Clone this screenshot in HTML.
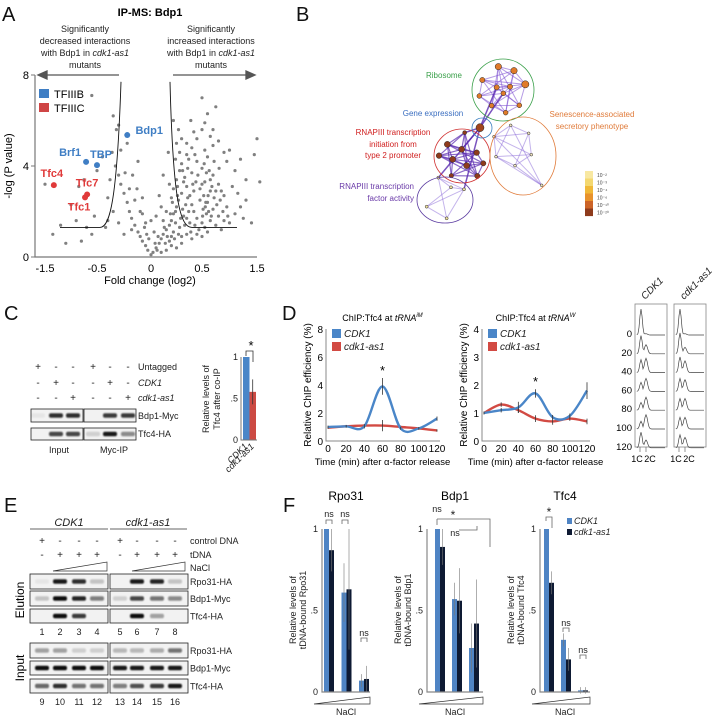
<!DOCTYPE html>
<html><head><meta charset="utf-8">
<style>
html,body{margin:0;padding:0;background:#fff;}
svg{display:block;font-family:"Liberation Sans",Arial,sans-serif;}
.t{font-size:9px;fill:#222;}
.ti{font-size:9px;fill:#222;font-style:italic;}
.pl{font-size:20px;fill:#111;}
</style></head>
<body>
<svg id="fig" width="720" height="718" viewBox="0 0 720 718">
<defs><filter id="blur" x="-20%" y="-50%" width="140%" height="200%"><feGaussianBlur stdDeviation="0.9"/></filter></defs>

<g>
<text class="pl" x="2" y="21">A</text>
<text x="150" y="16" text-anchor="middle" style="font-size:11px;font-weight:bold">IP-MS: Bdp1</text>
<g class="t" text-anchor="middle"><text x="85" y="32">Significantly</text><text x="85" y="44">decreased interactions</text><text x="85" y="56">with Bdp1 in <tspan font-style="italic">cdk1-as1</tspan></text><text x="85" y="68">mutants</text></g>
<g class="t" text-anchor="middle"><text x="211" y="32">Significantly</text><text x="211" y="44">increased interactions</text><text x="211" y="56">with Bdp1 in <tspan font-style="italic">cdk1-as1</tspan></text><text x="211" y="68">mutants</text></g>
<g stroke="#555" stroke-width="1.3" fill="#555"><line x1="119" y1="75" x2="44" y2="75"/><polygon points="38,75 47,71 47,79"/><line x1="173" y1="75" x2="248" y2="75"/><polygon points="255,75 246,71 246,79"/></g>
<g id="volcano"></g>
<rect x="39" y="89" width="10" height="9" fill="#3f7ec4"/>
<text x="54" y="98" style="font-size:11px">TFIIIB</text>
<rect x="39" y="103" width="10" height="9" fill="#cf4545"/>
<text x="54" y="112" style="font-size:11px">TFIIIC</text>
<text x="150" y="284" text-anchor="middle" style="font-size:11px">Fold change (log2)</text>
<text transform="translate(12,166) rotate(-90)" text-anchor="middle" style="font-size:11px">-log (P value)</text>
</g>

<g>
<text class="pl" x="296" y="21">B</text>
<g id="network"></g>
<ellipse cx="503" cy="90" rx="31" ry="31" fill="none" stroke="#3aa04a" stroke-width="0.8"/>
<ellipse cx="462" cy="156" rx="28" ry="27" fill="none" stroke="#d03030" stroke-width="0.8"/>
<ellipse cx="523" cy="156" rx="33" ry="39" fill="none" stroke="#e07b3a" stroke-width="0.8"/>
<ellipse cx="445" cy="200" rx="28" ry="23" fill="none" stroke="#5a3aa0" stroke-width="0.8"/>
<ellipse cx="482" cy="128" rx="10" ry="10" fill="none" stroke="#3a7ec0" stroke-width="0.8"/>
<text x="444" y="78" text-anchor="middle" style="font-size:8px;fill:#3aa04a">Ribosome</text>
<text x="433" y="116" text-anchor="middle" style="font-size:8px;fill:#3a6ec0">Gene expression</text>
<g text-anchor="middle" style="font-size:8px;fill:#e07b3a"><text x="592" y="117">Senescence-associated</text><text x="592" y="129">secretory phenotype</text></g>
<g text-anchor="middle" style="font-size:8px;fill:#d02020"><text x="393" y="135">RNAPIII transcription</text><text x="393" y="147">initiation from</text><text x="393" y="158">type 2 promoter</text></g>
<g text-anchor="end" style="font-size:8px;fill:#6a3aa8"><text x="414" y="189">RNAPIII transcription</text><text x="414" y="201">factor activity</text></g>
<g id="cbar"></g>
</g>

<g>
<text class="pl" x="4" y="320">C</text>
<g class="t" text-anchor="middle" style="font-size:10px">
<text x="38" y="370">+</text><text x="56" y="370">-</text><text x="73" y="370">-</text><text x="93" y="370">+</text><text x="110" y="370">-</text><text x="128" y="370">-</text>
<text x="38" y="386">-</text><text x="56" y="386">+</text><text x="73" y="386">-</text><text x="93" y="386">-</text><text x="110" y="386">+</text><text x="128" y="386">-</text>
<text x="38" y="401">-</text><text x="56" y="401">-</text><text x="73" y="401">+</text><text x="93" y="401">-</text><text x="110" y="401">-</text><text x="128" y="401">+</text>
</g>
<text class="t" x="138" y="370">Untagged</text>
<text class="ti" x="138" y="386">CDK1</text>
<text class="ti" x="138" y="401">cdk1-as1</text>
<g id="blotC"></g>
<text class="t" x="138" y="419">Bdp1-Myc</text>
<text class="t" x="138" y="437">Tfc4-HA</text>
<text class="t" x="59" y="453" text-anchor="middle">Input</text>
<text class="t" x="114" y="453" text-anchor="middle">Myc-IP</text>
<g id="barC"></g>
<g class="t" text-anchor="middle"><text transform="translate(209,399) rotate(-90)">Relative levels of</text><text transform="translate(220,399) rotate(-90)">Tfc4 after co-IP</text></g>
</g>

<g>
<text class="pl" x="282" y="320">D</text>
<g id="chipD"></g>
<g id="flow"></g>
</g>

<g>
<text class="pl" x="4" y="512">E</text>
<text class="ti" x="69" y="526" text-anchor="middle" style="font-size:11px">CDK1</text>
<text class="ti" x="148" y="526" text-anchor="middle" style="font-size:11px">cdk1-as1</text>
<line x1="30" y1="529" x2="108" y2="529" stroke="#333" stroke-width="0.8"/><line x1="110" y1="529" x2="187" y2="529" stroke="#333" stroke-width="0.8"/>
<g class="t" text-anchor="middle" style="font-size:10px">
<text x="42" y="544">+</text><text x="60" y="544">-</text><text x="79" y="544">-</text><text x="97" y="544">-</text><text x="120" y="544">+</text><text x="137" y="544">-</text><text x="157" y="544">-</text><text x="175" y="544">-</text>
<text x="42" y="558">-</text><text x="60" y="558">+</text><text x="79" y="558">+</text><text x="97" y="558">+</text><text x="120" y="558">-</text><text x="137" y="558">+</text><text x="157" y="558">+</text><text x="175" y="558">+</text>
</g>
<text class="t" x="190" y="544">control DNA</text>
<text class="t" x="190" y="558">tDNA</text>
<text class="t" x="190" y="571">NaCl</text>
<polygon points="53,571 107,571 107,562" fill="none" stroke="#333" stroke-width="0.7"/>
<polygon points="132,571 185,571 185,562" fill="none" stroke="#333" stroke-width="0.7"/>
<g id="blotE"></g>
<text transform="translate(24,600) rotate(-90)" text-anchor="middle" style="font-size:12px">Elution</text>
<text transform="translate(24,668) rotate(-90)" text-anchor="middle" style="font-size:12px">Input</text>
</g>

<g>
<text class="pl" x="283" y="512">F</text>
<g id="barsF"></g>
<rect x="567" y="518" width="5" height="6" fill="#4f84c4"/>
<text class="ti" x="574" y="524">CDK1</text>
<rect x="567" y="529" width="5" height="6" fill="#0e1a33"/>
<text class="ti" x="574" y="535">cdk1-as1</text>
<g fill="none" stroke="#666" stroke-width="0.8">
<path d="M326,524 v-4 h6 v4"/><path d="M342,524 v-4 h6 v4"/><path d="M361,642 v-4 h6 v4"/>
<path d="M437,519 h53 v28"/><path d="M437,519 v6"/><path d="M459,530 h18 v-4"/>
<path d="M546,521 v-4 h6 v4 v7"/><path d="M563,632 v-4 h6 v4"/><path d="M580,659 v-4 h6 v4"/>
</g>
<g class="t" text-anchor="middle">
<text x="329" y="517">ns</text><text x="345" y="517">ns</text><text x="364" y="636">ns</text>
<text x="437" y="512">ns</text><text x="453" y="519" style="font-size:12px">*</text><text x="455" y="536">ns</text>
<text x="549" y="516" style="font-size:12px">*</text><text x="566" y="626">ns</text><text x="583" y="653">ns</text>
</g>
</g>
</svg>

<script>
var volcanoXTicks = [-1.5, -0.5, 0, 0.5, 1.5];
var volcanoYTicks = [0, 4, 8];
var volcanoBg = [[0,0.1],[0.02,0.2],[-0.03,0.3],[0.05,0.4],[-0.05,0.5],[0.08,0.6],[-0.08,0.7],[0.1,0.8],[0.12,1.0],[-0.1,0.9],[0.15,1.2],[-0.12,1.1],[0.18,1.4],[0.2,1.6],[0.22,1.9],[0.25,2.2],[0.27,2.5],[0.3,2.8],[0.22,3.0],[0.25,3.4],[0.28,3.8],[0.3,4.1],[0.24,4.3],[0.33,3.5],[0.35,3.1],[0.38,2.7],[0.4,2.3],[0.42,2.0],[0.45,1.7],[0.5,1.5],[0.55,1.3],[0.6,1.1],[0.35,1.0],[0.3,0.6],[0.25,0.4],[0.4,0.8],[0.45,1.0],[0.5,0.9],[0.2,0.5],[0.15,0.3],[0.1,0.2],[-0.15,1.4],[-0.18,1.7],[-0.2,2.0],[-0.22,2.4],[-0.25,2.8],[-0.28,3.2],[-0.3,3.6],[-0.33,4.0],[-0.2,3.0],[-0.15,2.5],[-0.1,2.0],[-0.05,1.5],[-0.18,1.2],[-0.25,1.0],[-0.3,1.5],[-0.35,2.0],[-0.4,2.6],[-0.38,3.4],[-0.45,4.4],[-0.28,4.7],[-0.32,5.6],[-0.3,5.8],[-0.22,5.0],[0.35,4.5],[0.4,4.8],[0.45,5.2],[0.5,5.6],[0.55,5.9],[0.6,6.3],[0.75,6.6],[0.7,5.6],[0.8,5.1],[0.9,4.6],[0.95,4.2],[1.0,4.7],[1.1,3.8],[1.2,4.3],[1.3,3.4],[1.5,5.2],[1.55,3.3],[1.3,2.5],[1.2,2.2],[1.1,1.9],[0.9,2.7],[0.8,3.2],[0.7,3.6],[0.65,2.9],[0.6,2.4],[0.7,2.1],[0.8,1.8],[0.9,1.6],[0.55,3.3],[0.5,3.9],[0.45,4.2],[0.6,4.4],[0.7,4.9],[0.5,7.0],[0.85,1.2],[1.0,1.5],[0.75,1.4],[0.35,5.0],[0.3,5.2],[0.28,4.6],[-0.6,1.0],[-0.7,1.3],[-0.9,1.6],[-0.8,0.7],[-1.5,3.2],[-1.2,1.4],[-1.0,2.3],[-0.85,3.1],[-0.6,7.1],[-0.75,3.4],[-0.55,1.8],[-0.42,1.3],[-0.5,3.8],[-0.35,6.2],[0.12,1.6],[0.1,2.2],[0.08,2.7],[0.15,2.0],[0.05,1.8],[0.2,2.6],[0.18,3.2],[0.12,3.6],[0.4,3.7],[0.42,2.9],[0.48,2.5],[0.52,2.1],[0.58,1.9],[0.65,1.6],[0.32,1.8],[0.38,1.5],[0.28,1.3],[0.22,1.1],[0.3,0.9],[0.18,0.7],[-0.02,0.8],[0.03,1.1],[-0.06,1.3],[0.0,1.6],[-0.08,1.9],[0.26,3.1],[0.32,3.3],[0.36,3.9],[0.21,2.4],[0.24,2.0],[0.29,1.7],[0.34,2.3],[0.37,2.0],[0.43,1.4],[0.47,1.2],[0.27,1.0],[0.2,0.9],[0.14,0.6],[0.06,0.3],[0.23,0.8],[0.33,1.4],[0.39,1.1],[0.44,3.3],[0.48,3.0],[0.53,2.7],[0.57,2.4],[0.62,2.0],[0.67,1.8],[0.72,2.6],[0.77,2.3],[0.85,2.9],[0.95,2.2],[1.05,3.1],[0.65,3.4],[0.58,3.7],[0.55,4.7],[0.65,5.3],[0.42,5.5],[0.39,6.0],[1.15,2.8],[1.25,1.7],[1.4,1.5],[1.45,4.5],[-0.13,3.0],[-0.17,3.6],[-0.24,3.7],[-0.12,4.2],[-0.08,2.6],[-0.36,4.6],[-0.4,1.6],[-1.35,1.0],[-1.1,0.6],[0.17,4.6],[0.27,5.6],[0.22,6.0],[0.31,2.1],[0.36,2.6],[0.41,3.2],[0.46,3.6],[0.26,2.7],[0.19,1.9],[0.13,1.3],[0.07,0.9],[0.04,0.6],[-0.04,1.0],[0.16,0.9],[0.24,1.5],[0.35,1.7],[0.51,1.8],[0.56,2.2],[0.61,2.7],[0.68,3.1],[0.75,2.9],[0.83,2.5],[0.88,2.0],[0.97,1.8],[0.5,3.2],[0.54,4.1],[0.63,3.8],[0.72,4.2],[0.81,3.9],[0.31,3.8],[0.37,4.3],[0.43,4.5],[0.25,5.0]];
var hitNames = ["Bdp1","Brf1","TBP","Tfc4","Tfc7","Tfc1"];
var hitX = [-0.22, -0.71, -0.5, -1.33, -0.69, -0.73];
var hitY = [5.36, 4.18, 4.04, 3.16, 2.75, 2.62];
var hitComplex = ["B","B","B","C","C","C"];

var coipGenotypes = ["CDK1","cdk1-as1"];
var coipValues = [1.0, 0.58];
var coipErr = [0.0, 0.15];
var coipTicks = [0, 0.5, 1];
var coipTickLabels = ["0", ".5", "1"];

var dTimes = [0, 20, 40, 60, 80, 100, 120];
var dXTickLabels = ["0","20","40","60","80","100","120"];
var dM_cdk1 = [1.0, 1.05, 1.05, 3.9, 0.9, 0.9, 1.6];
var dM_cdk1Err = [0.1, 0.1, 0.15, 0.6, 0.1, 0.1, 0.15];
var dM_as1 = [0.95, 1.05, 1.1, 1.1, 1.0, 0.9, 0.75];
var dM_as1Err = [0.08, 0.08, 0.1, 0.4, 0.1, 0.08, 0.08];
var dM_yTicks = [0, 2, 4, 6, 8];
var dW_cdk1 = [1.0, 1.1, 1.2, 1.7, 0.85, 0.9, 1.8];
var dW_cdk1Err = [0.05, 0.08, 0.2, 0.15, 0.08, 0.08, 0.3];
var dW_as1 = [1.0, 1.3, 1.1, 0.8, 0.7, 0.8, 0.7];
var dW_as1Err = [0.05, 0.08, 0.1, 0.12, 0.12, 0.08, 0.1];
var dW_yTicks = [0, 1, 2, 3, 4];
var flowTimes = ["0","20","40","60","80","100","120"];
var flowCdk1_1C = [1.0, 0.7, 0.5, 0.35, 0.3, 0.3, 0.6];
var flowCdk1_2C = [0.05, 0.35, 0.55, 0.5, 0.5, 0.55, 0.3];
var flowAs1_1C = [1.0, 0.8, 0.6, 0.5, 0.45, 0.45, 0.5];
var flowAs1_2C = [0.05, 0.25, 0.45, 0.45, 0.45, 0.45, 0.4];

var fSalt = ["low","mid","high"];
var fRpo31_cdk1 = [1.0, 0.61, 0.07];
var fRpo31_as1 = [0.87, 0.63, 0.08];
var fRpo31_cdk1Err = [0, 0.18, 0.04];
var fRpo31_as1Err = [0.13, 0.37, 0.08];
var fBdp1_cdk1 = [1.0, 0.57, 0.27];
var fBdp1_as1 = [0.89, 0.56, 0.42];
var fBdp1_cdk1Err = [0, 0.1, 0.15];
var fBdp1_as1Err = [0.11, 0.2, 0.27];
var fTfc4_cdk1 = [1.0, 0.32, 0.01];
var fTfc4_as1 = [0.67, 0.2, 0.01];
var fTfc4_cdk1Err = [0, 0.04, 0.02];
var fTfc4_as1Err = [0.07, 0.07, 0.02];
var fTicks = [0, 0.5, 1];
var fTickLabels = ["0", ".5", "1"];

var NS = "http://www.w3.org/2000/svg";
function mk(parent, tag, attrs, text) {
  var e = document.createElementNS(NS, tag);
  for (var k in attrs) e.setAttribute(k, attrs[k]);
  if (text !== undefined) e.textContent = text;
  parent.appendChild(e);
  return e;
}

(function(){
  var g = document.getElementById("volcano");
  var tickPx = [45, 97, 151, 202, 257];
  function xA(v){
    for (var i = 0; i < volcanoXTicks.length - 1; i++) {
      if (v <= volcanoXTicks[i+1] || i == volcanoXTicks.length - 2) {
        var a = volcanoXTicks[i], b = volcanoXTicks[i+1];
        return tickPx[i] + (v - a) / (b - a) * (tickPx[i+1] - tickPx[i]);
      }
    }
  }
  function yA(v){ return 257 - v / 8 * 182; }
  var ax = mk(g, "path", {d:"M35,"+yA(8)+" V257 H257", fill:"none", stroke:"#777", "stroke-width":1.2});
  
  
  volcanoXTicks.forEach(function(t, i){
    var tl = mk(g, "text", {x:xA(t), y:272, "text-anchor":"middle", style:"font-size:11px"}, String(t));
    
    
  });
  volcanoYTicks.forEach(function(t){
    mk(g, "line", {x1:31, x2:35, y1:yA(t), y2:yA(t), stroke:"#777"});
    var tl = mk(g, "text", {x:29, y:yA(t)+4, "text-anchor":"end", style:"font-size:11px"}, String(t));
    
    
  });
  volcanoBg.forEach(function(p){
    var c = mk(g, "circle", {cx:xA(p[0]).toFixed(1), cy:yA(p[1]).toFixed(1), r:1.6, fill:"#808080"});
    
    
  });
  mk(g, "path", {d:"M60,"+yA(1.3)+" H100 C110,"+yA(1.3)+" 117,"+yA(2.5)+" 121,"+yA(7.7), fill:"none", stroke:"#111", "stroke-width":0.9});
  mk(g, "path", {d:"M170,"+yA(7.7)+" C173,"+yA(2.5)+" 180,"+yA(1.3)+" 192,"+yA(1.3)+" H237", fill:"none", stroke:"#111", "stroke-width":0.9});
  var labOff = {Bdp1:[22,-1], Brf1:[-16,-6], TBP:[4,-7], Tfc4:[-2,-8], Tfc7:[0,-8], Tfc1:[-6,13]};
  hitNames.forEach(function(n, i){
    var col = hitComplex[i] == "B" ? "#3f7ec4" : "#e03a3a";
    var c = mk(g, "circle", {cx:xA(hitX[i]), cy:yA(hitY[i]), r:3, fill:col});
    
    
    var o = labOff[n];
    var t = mk(g, "text", {x:xA(hitX[i])+o[0], y:yA(hitY[i])+o[1], style:"font-size:11px;font-weight:bold;fill:"+col, "text-anchor":"middle"}, n);
    
    
  });
})();

(function(){
  var g = document.getElementById("network");
  function P(a){ return a.map(function(p){ return [290 + p[0]/3, p[1]/3]; }); }
  var green = P([[625,200],[672,212],[706,253],[577,240],[620,262],[660,260],[640,280],[568,288],[605,317],[647,338],[688,316]]);
  var red = P([[524,398],[472,433],[515,448],[560,458],[447,467],[488,478],[530,497],[580,490],[562,528],[484,527]]);
  var purple = P([[445,533],[483,562],[522,568],[410,620],[470,655]]);
  var orange = P([[662,376],[716,400],[612,410],[724,464],[618,470],[675,497],[755,556]]);
  var hub = P([[570,383]])[0];
  function edges(nodes, col, w, op){
    for (var i=0;i<nodes.length;i++) for (var j=i+1;j<nodes.length;j++){
      if ((i+j)%2==0 || j==i+1) mk(g, "line", {x1:nodes[i][0],y1:nodes[i][1],x2:nodes[j][0],y2:nodes[j][1],stroke:col,"stroke-width":w,opacity:op});
    }
  }
  edges(green, "#7a4ad0", 1, 0.55);
  edges(red, "#5a2ab0", 1.2, 0.7);
  edges(purple, "#8a6ad8", 1, 0.5);
  edges(orange, "#8a6ad8", 1, 0.5);
  [green[4], green[6], red[0], red[2], purple[0], purple[2]].forEach(function(n){
    mk(g, "line", {x1:hub[0],y1:hub[1],x2:n[0],y2:n[1],stroke:"#5a2ab0","stroke-width":1.5,opacity:0.8});
  });
  function nodes(list, fill, r){
    list.forEach(function(n, i){
      var c = mk(g, "circle", {cx:n[0], cy:n[1], r:(typeof r=="number"?r:r[i%r.length]), fill:fill, stroke:"#222", "stroke-width":0.5});
      
      
    });
  }
  nodes(green, "#e07b2a", [3.2,3.2,3.6,2.6,2.6,2.6,2.4,2.4,2.4,2.4,2.4]);
  nodes(red, "#8e3b1c", [2,3,3,2.8,2.8,3,3,2.6,2.6,2.2]);
  nodes(purple, "#efe0a0", 1.5);
  nodes(orange, "#f2e6c0", 1.4);
  var h = mk(g, "circle", {cx:hub[0], cy:hub[1], r:4, fill:"#a2441c", stroke:"#222", "stroke-width":0.5});
  
  
  var cb = document.getElementById("cbar");
  var cols = ["#f8e8a2","#f4d870","#f0b838","#e8922c","#cc6428","#8e3b1c"];
  var labs = ["10\u207B\u00B2","10\u207B\u00B3","10\u207B\u2074","10\u207B\u2076","10\u207B\u00B9\u2070","10\u207B\u00B2\u2070"];
  cols.forEach(function(c, i){
    var r = mk(cb, "rect", {x:585, y:171+i*7.5, width:8, height:7.6, fill:c});
    
    
    mk(cb, "text", {x:597, y:177+i*7.5, style:"font-size:5px;fill:#444"}, labs[i]);
  });
})();

function blotRow(g, x, y, w, h, intens, lanes){
  mk(g, "rect", {x:x, y:y, width:w, height:h, fill:"#f2f2f2", stroke:"#222", "stroke-width":0.8});
  lanes.forEach(function(lx, i){
    var v = intens[i];
    if (v <= 0.02) return;
    var b = mk(g, "rect", {x:lx-7, y:y+h/2-2.2, width:14, height:4.4, rx:2, fill:"#111", opacity:v, filter:"url(#blur)"});
    
    
  });
}

(function(){
  var g = document.getElementById("blotC");
  blotRow(g, 31, 409, 52, 13, [0.05,0.85,0.85], [38,56,73]);
  blotRow(g, 84, 409, 52, 13, [0.0,0.8,0.8], [93,110,128]);
  blotRow(g, 31, 428, 52, 12, [0,0.75,0.75], [38,56,73]);
  blotRow(g, 84, 428, 52, 12, [0.15,0.95,0.45], [93,110,128]);

  var b = document.getElementById("barC");
  function yC(v){ return 440 - v * 83; }
  var barX = [243, 249.5];
  var cols = ["#4a86c8", "#cc4a43"];
  coipValues.forEach(function(v, i){
    var r = mk(b, "rect", {x:barX[i], y:yC(v), width:6.5, height:440-yC(v), fill:cols[i]});
    
    
    if (coipErr[i] > 0) {
      mk(b, "line", {x1:barX[i]+3.2, x2:barX[i]+3.2, y1:yC(v-coipErr[i]), y2:yC(v+coipErr[i]), stroke:"#333", "stroke-width":0.8});
    }
    var t = mk(b, "text", {transform:"translate("+(barX[i]+5)+",447) rotate(-45)", "text-anchor":"end", "class":"ti"}, coipGenotypes[i]);
    
    
  });
  mk(b, "path", {d:"M241,357 V440 H257", fill:"none", stroke:"#777", "stroke-width":1});
  coipTicks.forEach(function(t, i){
    var tl = mk(b, "text", {x:238, y:yC(t)+3, "text-anchor":"end", "class":"t"}, coipTickLabels[i]);
    
    
  });
  mk(b, "path", {d:"M246,356 V351 H253 V362", fill:"none", stroke:"#333", "stroke-width":0.8});
  mk(b, "text", {x:251, y:350, "text-anchor":"middle", style:"font-size:13px"}, "*");
})();

function smoothPath(pts){
  var d = "M" + pts[0][0] + "," + pts[0][1];
  for (var i = 0; i < pts.length - 1; i++) {
    var p0 = pts[i-1] || pts[i], p1 = pts[i], p2 = pts[i+1], p3 = pts[i+2] || p2;
    var c1x = p1[0] + (p2[0]-p0[0])/6, c1y = p1[1] + (p2[1]-p0[1])/6;
    var c2x = p2[0] - (p3[0]-p1[0])/6, c2y = p2[1] - (p3[1]-p1[1])/6;
    d += " C" + c1x + "," + c1y + " " + c2x + "," + c2y + " " + p2[0] + "," + p2[1];
  }
  return d;
}
function chipPlot(g, cfg){
  function xs(t){ return cfg.x0 + t / 120 * (cfg.x1 - cfg.x0); }
  function ys(v){ return 441 - v / cfg.ymax * 112; }
  mk(g, "path", {d:"M"+(cfg.x0-2)+",329 V441 H"+(cfg.x1+3), fill:"none", stroke:"#888", "stroke-width":1});
  cfg.yTicks.forEach(function(t){
    var tl = mk(g, "text", {x:cfg.x0-5, y:ys(t)+4, "text-anchor":"end", style:"font-size:10px"}, String(t));
    
    
  });
  dTimes.forEach(function(t, i){
    var tl = mk(g, "text", {x:xs(t), y:452, "text-anchor":"middle", style:"font-size:10px"}, dXTickLabels[i]);
    
    
  });
  [[cfg.as1, cfg.as1Err, "#d24a43"], [cfg.cdk, cfg.cdkErr, "#4a86c8"]].forEach(function(s, si){
    var pts = dTimes.map(function(t, i){ return [xs(t), ys(s[0][i])]; });
    var p = mk(g, "path", {d:smoothPath(pts), fill:"none", stroke:s[2], "stroke-width":2.4});
    
    
    dTimes.forEach(function(t, i){
      var e = mk(g, "line", {x1:xs(t), x2:xs(t), y1:ys(s[0][i]-s[1][i]), y2:ys(s[0][i]+s[1][i]), stroke:"#333", "stroke-width":0.8});
      
      
    });
  });
  var starV = cfg.cdk[3] + cfg.cdkErr[3];
  mk(g, "text", {x:xs(60), y:ys(starV)-3, "text-anchor":"middle", style:"font-size:13px"}, "*");
  mk(g, "rect", {x:cfg.x0+4, y:329, width:9, height:9, fill:"#4a86c8"});
  mk(g, "text", {x:cfg.x0+16, y:337, "class":"ti", style:"font-size:10px"}, "CDK1");
  mk(g, "rect", {x:cfg.x0+4, y:342, width:9, height:9, fill:"#d24a43"});
  mk(g, "text", {x:cfg.x0+16, y:350, "class":"ti", style:"font-size:10px"}, "cdk1-as1");
  var tt = mk(g, "text", {x:(cfg.x0+cfg.x1)/2, y:321, "text-anchor":"middle", style:"font-size:9px"});
  tt.textContent = "ChIP:Tfc4 at ";
  mk(tt, "tspan", {"font-style":"italic"}, "tRNA");
  mk(tt, "tspan", {dy:-4, style:"font-size:6px", "font-style":"italic"}, cfg.sup);
  
  
  mk(g, "text", {transform:"translate("+(cfg.x0-17)+",385) rotate(-90)", "text-anchor":"middle", style:"font-size:10px"}, "Relative ChIP efficiency (%)");
  mk(g, "text", {x:(cfg.x0+cfg.x1)/2, y:465, "text-anchor":"middle", style:"font-size:9.5px"}, "Time (min) after \u03B1-factor release");
}
(function(){
  var g = document.getElementById("chipD");
  var g1 = mk(g, "g", {});
  
  
  chipPlot(g1, {x0:328, x1:437, ymax:8, yTicks:dM_yTicks, cdk:dM_cdk1, cdkErr:dM_cdk1Err, as1:dM_as1, as1Err:dM_as1Err, sup:"iM"});
  var g2 = mk(g, "g", {});
  
  
  chipPlot(g2, {x0:484, x1:587, ymax:4, yTicks:dW_yTicks, cdk:dW_cdk1, cdkErr:dW_cdk1Err, as1:dW_as1, as1Err:dW_as1Err, sup:"W"});

  var f = document.getElementById("flow");
  [[635, flowCdk1_1C, flowCdk1_2C, "CDK1"], [674, flowAs1_1C, flowAs1_2C, "cdk1-as1"]].forEach(function(col){
    var bx = col[0];
    var box = mk(f, "rect", {x:bx, y:304, width:32, height:143, fill:"none", stroke:"#888", "stroke-width":0.8});
    
    
    flowTimes.forEach(function(t, i){
      var base = 335 + i * 18.8;
      var d = "M" + (bx+2) + "," + base;
      for (var k = 0; k <= 28; k++) {
        var x = bx + 2 + k;
        var a = col[1][i] * 26 * Math.exp(-Math.pow((x-(bx+6))/1.8, 2));
        var b = col[2][i] * 26 * Math.exp(-Math.pow((x-(bx+11))/2.2, 2));
        d += " L" + x + "," + (base - Math.max(a, b)).toFixed(1);
      }
      var p = mk(f, "path", {d:d, fill:"none", stroke:"#444", "stroke-width":0.7});
      
      
    });
    var lbl = mk(f, "text", {transform:"translate("+(bx+10)+",300) rotate(-45)", "class":"ti", style:"font-size:10px"}, col[3]);
    
    
    mk(f, "text", {x:bx+2, y:462, "text-anchor":"middle", style:"font-size:9px"}, "1C");
    mk(f, "text", {x:bx+15, y:462, "text-anchor":"middle", style:"font-size:9px"}, "2C");
    mk(f, "line", {x1:bx+5, x2:bx+5, y1:447, y2:452, stroke:"#666", "stroke-width":0.7});
    mk(f, "line", {x1:bx+11, x2:bx+11, y1:447, y2:452, stroke:"#666", "stroke-width":0.7});
  });
  flowTimes.forEach(function(t, i){
    var tl = mk(f, "text", {x:632, y:337 + i * 18.8, "text-anchor":"end", style:"font-size:9.5px"}, t);
    
    
  });
})();

(function(){
  var g = document.getElementById("blotE");
  var L1 = [42,60,79,97], L2 = [120,137,157,175];
  var rows = [
    [574, 15, [0.05,0.95,0.85,0.2], [0.02,0.95,0.9,0.2], "Rpo31-HA"],
    [591, 15, [0.2,1,0.9,0.5], [0.15,0.75,0.55,0.45], "Bdp1-Myc"],
    [609, 14, [0,1,0.8,0], [0,1,0.35,0], "Tfc4-HA"],
    [643, 15, [0.35,0.35,0.15,0.15], [0.25,0.25,0.3,0.55], "Rpo31-HA"],
    [661, 14, [1,1,1,1], [0.95,0.95,0.95,0.95], "Bdp1-Myc"],
    [679, 14, [0.6,0.85,0.55,0.55], [0.5,0.7,0.8,0.95], "Tfc4-HA"]
  ];
  rows.forEach(function(r){
    blotRow(g, 30, r[0], 78, r[1], r[2], L1);
    blotRow(g, 110, r[0], 78, r[1], r[3], L2);
    var t = mk(g, "text", {x:190, y:r[0]+r[1]/2+3.5, "class":"t"}, r[4]);
    
    
  });
  L1.concat(L2).forEach(function(x, i){
    mk(g, "text", {x:x, y:635, "text-anchor":"middle", "class":"t"}, String(i+1));
    mk(g, "text", {x:x, y:705, "text-anchor":"middle", "class":"t"}, String(i+9));
  });
})();

(function(){
  var g = document.getElementById("barsF");
  function yF(v){ return 692 - v * 163; }
  var charts = [
    {name:"Rpo31", ax:322, off:2, step:17.5, end:370, c:fRpo31_cdk1, a:fRpo31_as1, ce:fRpo31_cdk1Err, ae:fRpo31_as1Err},
    {name:"Bdp1", ax:427, off:8, step:17, end:483, c:fBdp1_cdk1, a:fBdp1_as1, ce:fBdp1_cdk1Err, ae:fBdp1_as1Err},
    {name:"Tfc4", ax:540, off:4, step:17, end:590, c:fTfc4_cdk1, a:fTfc4_as1, ce:fTfc4_cdk1Err, ae:fTfc4_as1Err}
  ];
  charts.forEach(function(ch){
    var cg = mk(g, "g", {});
    
    
    fSalt.forEach(function(s, i){
      var x = ch.ax + ch.off + i * ch.step;
      [[ch.c, ch.ce, "#4f84c4", x], [ch.a, ch.ae, "#0e1a33", x+5]].forEach(function(sr, k){
        var v = sr[0][i];
        var r = mk(cg, "rect", {x:sr[3], y:yF(v), width:5, height:692-yF(v), fill:sr[2]});
        
        
        if (sr[1][i] > 0) mk(cg, "line", {x1:sr[3]+2.5, x2:sr[3]+2.5, y1:yF(v-sr[1][i]), y2:yF(v+sr[1][i]), stroke:"#777", "stroke-width":0.6});
      });
    });
    mk(cg, "path", {d:"M"+ch.ax+",529 V692 H"+ch.end, fill:"none", stroke:"#888", "stroke-width":1.2});
    fTicks.forEach(function(t, i){
      var tl = mk(cg, "text", {x:ch.ax-4, y:yF(t)+3, "text-anchor":"end", "class":"t"}, fTickLabels[i]);
      
      
    });
    mk(cg, "text", {x:(ch.ax+ch.end)/2, y:500, "text-anchor":"middle", style:"font-size:12px"}, ch.name);
    mk(cg, "polygon", {points:(ch.ax-8)+",704 "+ch.end+",704 "+ch.end+",697", fill:"none", stroke:"#333", "stroke-width":0.7});
    mk(cg, "text", {x:(ch.ax+ch.end)/2, y:715, "text-anchor":"middle", "class":"t"}, "NaCl");
    mk(cg, "text", {transform:"translate("+(ch.ax-26)+",610) rotate(-90)", "text-anchor":"middle", "class":"t"}, "Relative levels of");
    mk(cg, "text", {transform:"translate("+(ch.ax-16)+",610) rotate(-90)", "text-anchor":"middle", "class":"t"}, "tDNA-bound " + ch.name);
  });
})();
</script>
</body></html>
